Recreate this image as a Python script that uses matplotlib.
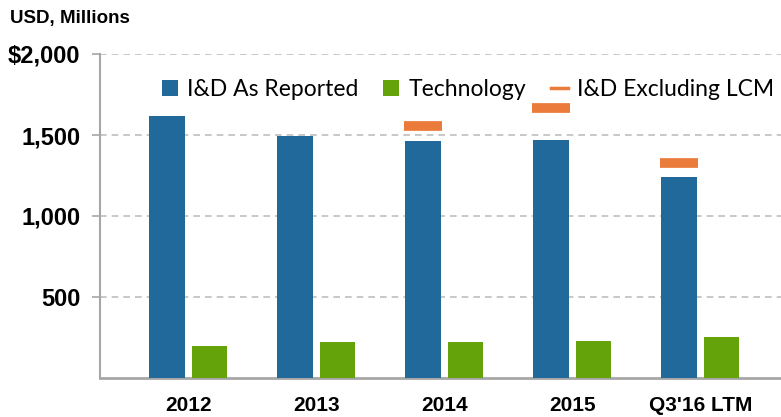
import matplotlib.pyplot as plt
from matplotlib.lines import Line2D
from matplotlib.patches import Patch
import numpy as np

# data (USD, millions)
categories = ['2012', '2013', '2014', '2015', "Q3'16 LTM"]
id_reported = [1620, 1495, 1460, 1470, 1240]
technology = [195, 220, 220, 230, 255]
id_excl_lcm = [None, None, 1555, 1665, 1330]
ytick_vals = [500, 1000, 1500, 2000]
ytick_labels = ['500', '1,000', '1,500', '$2,000']

BLUE = '#22699B'
GREEN = '#65A30A'
ORANGE = '#EB7B3A'
GRAY = '#A6A6A6'

fig = plt.figure(figsize=(7.81, 4.17), dpi=100)
ax = fig.add_axes([100 / 781, 1 - 378 / 417, 681 / 781, 324 / 417])

x = np.arange(len(categories))
w = 0.28
off = 0.165
ax.bar(x - off, id_reported, width=w, color=BLUE, zorder=3)
ax.bar(x + off, technology, width=w, color=GREEN, zorder=3)
for xi, v in zip(x, id_excl_lcm):
    if v is not None:
        ax.plot([xi - off - w / 2 - 0.01, xi - off + w / 2 + 0.01], [v, v],
                color=ORANGE, lw=7, solid_capstyle='butt', zorder=4)

ax.set_xlim(-0.69, 4.63)
ax.set_ylim(0, 2000)
ax.set_yticks(ytick_vals)
ax.set_yticklabels(ytick_labels)
ax.set_xticks(x)
ax.set_xticklabels(categories)

ax.grid(axis='y', color='#BFBFBF', linestyle=(0, (4, 3)), lw=1.2, zorder=0)
for s in ['top', 'right']:
    ax.spines[s].set_visible(False)
ax.spines['left'].set_color(GRAY)
ax.spines['left'].set_linewidth(1.5)
ax.spines['bottom'].set_color(GRAY)
ax.spines['bottom'].set_linewidth(2)
ax.tick_params(axis='y', length=6, width=1.2, color=GRAY, pad=8)
ax.tick_params(axis='x', length=0, pad=13)
for lab in ax.get_yticklabels():
    lab.set_fontfamily(['Liberation Sans Narrow', 'Liberation Sans'])
    lab.set_fontweight('bold')
    lab.set_fontsize(17)
for lab in ax.get_xticklabels():
    lab.set_fontfamily(['Liberation Sans Narrow', 'Liberation Sans'])
    lab.set_fontweight('bold')
    lab.set_fontsize(15)

handles = [
    Patch(facecolor=BLUE, label='I&D As Reported'),
    Patch(facecolor=GREEN, label='Technology'),
    Line2D([0], [0], color=ORANGE, lw=2.5, label='I&D Excluding LCM'),
]
ax.legend(handles=handles, loc='upper center', bbox_to_anchor=(0.54, 0.985),
          ncol=3, frameon=False, handlelength=0.7, handleheight=0.7,
          handletextpad=0.4, columnspacing=1.1,
          prop={'family': 'Lato', 'size': 16.5})

fig.text(10 / 781, 1 - 18 / 417, 'USD, Millions', fontsize=13.5, fontweight='bold',
         family='Liberation Sans', va='center', ha='left')

fig.savefig('out.png', dpi=100)
